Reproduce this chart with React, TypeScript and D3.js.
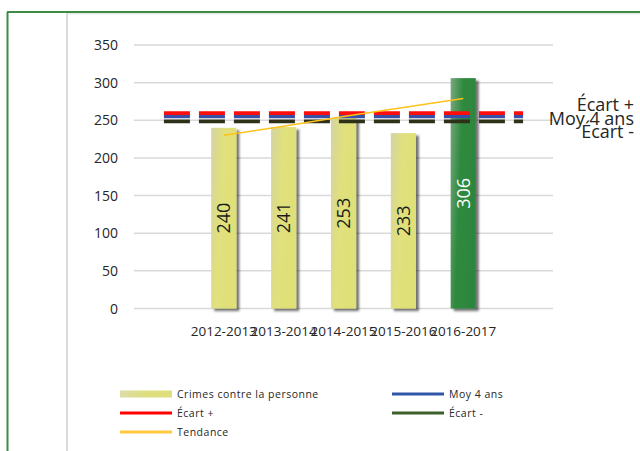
import React from "react";
import * as d3 from "d3";

const categories = ["", "2012-2013", "2013-2014", "2014-2015", "2015-2016", "2016-2017", ""];
const barCategories = ["2012-2013", "2013-2014", "2014-2015", "2015-2016", "2016-2017"];
const crimes = [240, 241, 253, 233, 306];
const tendance = [230, 242, 255, 267, 279];
const moy4ans = 255;
const ecartPlus = 259.5;
const ecartMoins = 248.5;
const yTicks = [0, 50, 100, 150, 200, 250, 300, 350];

const FONT = "'Open Sans', 'DejaVu Sans', sans-serif";

export default function App() {
  const W = 640, H = 451;
  const x = d3.scaleBand<string>().domain(categories.map((c, i) => i + ":" + c)).range([134, 553]);
  const key = (i: number) => i + ":" + categories[i];
  const cx = (i: number) => (x(key(i)) as number) + x.bandwidth() / 2;
  const y = d3.scaleLinear().domain([0, 350]).range([308.5, 45]);
  const bw = x.bandwidth() * 0.42;

  const trendLine = d3.line<number>()
    .x((_, i) => cx(i + 1))
    .y((d) => y(d));

  const refLines = [
    { v: ecartMoins, color: "#2e3118", label: "Écart -", ly: 138 },
    { v: moy4ans, color: "#3a4fa8", label: "Moy 4 ans", ly: 125 },
    { v: ecartPlus, color: "#ff0d0d", label: "Écart +", ly: 111 },
  ];

  const legend = [
    { type: "bar", label: "Crimes contre la personne", x: 120, y: 394 },
    { type: "line", color: "#2f56a6", label: "Moy 4 ans", x: 392, y: 394 },
    { type: "line", color: "#ff0000", label: "Écart +", x: 120, y: 413 },
    { type: "line", color: "#3b5e2b", label: "Écart -", x: 392, y: 413 },
    { type: "line", color: "#ffc83d", label: "Tendance", x: 120, y: 432 },
  ];

  return (
    <svg width={W} height={H} style={{ position: "absolute", left: 0, top: 0, background: "#fff" }} fontFamily={FONT}>
      <defs>
        <linearGradient id="yel" x1="0" y1="0" x2="1" y2="0.35">
          <stop offset="0" stopColor="#d4d4a4" />
          <stop offset="0.45" stopColor="#e0e07c" />
          <stop offset="1" stopColor="#e0e078" />
        </linearGradient>
        <linearGradient id="grn" x1="0" y1="0" x2="1" y2="0.35">
          <stop offset="0" stopColor="#7aa880" />
          <stop offset="0.45" stopColor="#2f8a3f" />
          <stop offset="1" stopColor="#2c863c" />
        </linearGradient>
        <linearGradient id="legyel" x1="0" y1="0" x2="1" y2="0">
          <stop offset="0" stopColor="#dcdca8" />
          <stop offset="0.5" stopColor="#dede80" />
          <stop offset="1" stopColor="#dede7c" />
        </linearGradient>
        <filter id="shadow" x="-30%" y="-10%" width="170%" height="130%">
          <feDropShadow dx="3" dy="2.5" stdDeviation="1.3" floodColor="#000" floodOpacity="0.55" />
        </filter>
      </defs>

      {/* frame */}
      <line x1={7.5} y1={12} x2={7.5} y2={H} stroke="#3c8c46" strokeWidth={2} />
      <line x1={7} y1={12} x2={W} y2={12} stroke="#3c8c46" strokeWidth={2} />
      <line x1={67} y1={13} x2={67} y2={H} stroke="#dadada" strokeWidth={2} />
      <line x1={67} y1={13.8} x2={W} y2={13.8} stroke="#e2e2e2" strokeWidth={1} />

      {/* gridlines and y labels */}
      {yTicks.map((t) => (
        <g key={t}>
          <line x1={134} x2={553} y1={y(t)} y2={y(t)} stroke="#d9d9d9" strokeWidth={1.5} />
          <text x={118} y={y(t)} dy="0.36em" textAnchor="end" fontSize={14} fill="#262626">{t}</text>
        </g>
      ))}

      {/* bars */}
      {crimes.map((v, i) => {
        const c = cx(i + 1);
        const last = i === crimes.length - 1;
        return (
          <g key={barCategories[i]}>
            <rect x={c - bw / 2} y={y(v)} width={bw} height={y(0) - y(v)} fill={last ? "url(#grn)" : "url(#yel)"} filter="url(#shadow)" />
            <text
              transform={`translate(${c},${(y(v) + y(0)) / 2}) rotate(-90)`}
              textAnchor="middle"
              dy="0.36em"
              fontSize={18}
              fill={last ? "#ffffff" : "#1a1a1a"}
            >
              {v}
            </text>
          </g>
        );
      })}

      {/* reference dashed lines */}
      {refLines.map((r) => (
        <line key={r.label} x1={cx(0)} x2={cx(6)} y1={y(r.v)} y2={y(r.v)} stroke={r.color} strokeWidth={3.6} strokeDasharray="26 9" />
      ))}

      {/* trend */}
      <path d={trendLine(tendance) || ""} fill="none" stroke="#ffc21a" strokeWidth={1.5} />

      {/* right labels */}
      {refLines.map((r) => (
        <text key={r.label + "l"} x={634} y={r.ly} textAnchor="end" fontSize={18} fill="#262626">{r.label}</text>
      ))}

      {/* category labels */}
      {categories.map((c, i) => (
        <text key={i} x={cx(i)} y={336} textAnchor="middle" fontSize={13.5} fill="#262626">{c}</text>
      ))}

      {/* legend */}
      {legend.map((l) => (
        <g key={l.label}>
          {l.type === "bar" ? (
            <rect x={l.x} y={l.y - 3.5} width={52} height={7} fill="url(#legyel)" />
          ) : (
            <line x1={l.x} x2={l.x + 52} y1={l.y} y2={l.y} stroke={l.color} strokeWidth={3} />
          )}
          <text x={l.x + 57} y={l.y} dy="0.36em" fontSize={10.5} letterSpacing={0.5} fill="#262626">{l.label}</text>
        </g>
      ))}
    </svg>
  );
}
